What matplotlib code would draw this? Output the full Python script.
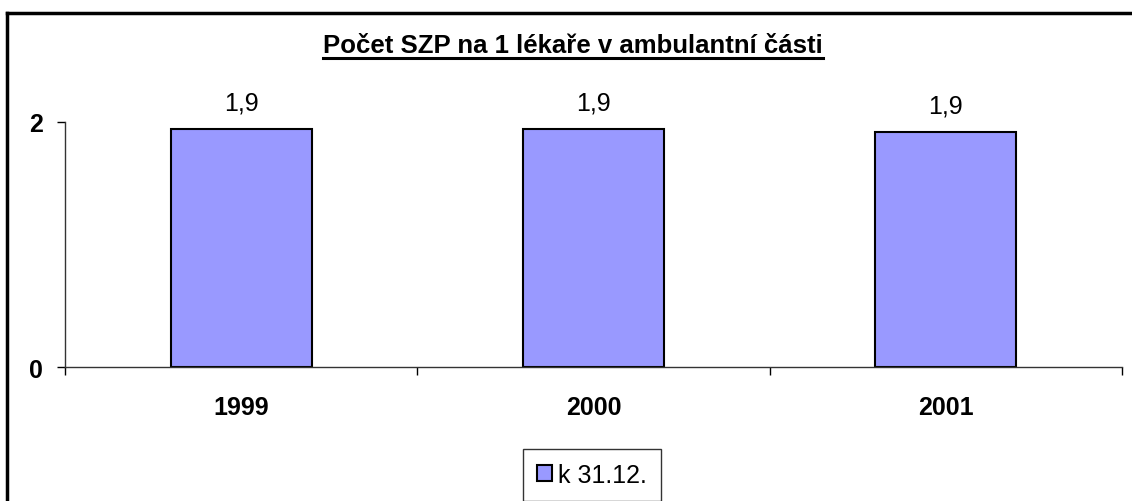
import matplotlib
matplotlib.use("Agg")
import matplotlib.pyplot as plt
from matplotlib.lines import Line2D

plt.rcParams["font.family"] = ["Liberation Sans", "DejaVu Sans"]

years = ["1999", "2000", "2001"]
values = [1.94, 1.94, 1.92]
series_name = "k 31.12."
title = "Počet SZP na 1 lékaře v ambulantní části"
y_ticks = [0, 2]

W, H = 1132, 502
FS = 18
fig = plt.figure(figsize=(W / 100, H / 100), dpi=100)

# outer chart frame: only left and top edges are inside the picture
fx, fy = 7 / W, (H - 14) / H
fig.lines.append(Line2D([fx, fx], [0, fy], transform=fig.transFigure,
                        color="black", linewidth=2.5, solid_capstyle="projecting"))
fig.lines.append(Line2D([fx, 1.01], [fy, fy], transform=fig.transFigure,
                        color="black", linewidth=2.5, solid_capstyle="projecting"))

ax = fig.add_axes([65 / W, 134 / H, 1057 / W, 245 / H])
x = list(range(len(years)))
bars = ax.bar(x, values, width=0.4, color="#9999FF", edgecolor="black",
              linewidth=1.5, label=series_name)

for xi, v in zip(x, values):
    ax.annotate(f"{v:.1f}".replace(".", ","), (xi, v), xytext=(0, 14),
                textcoords="offset points", ha="center", va="baseline",
                fontsize=FS)

ax.set_xlim(-0.5, 2.5)
ax.set_ylim(0, 2)
ax.set_yticks(y_ticks)
ax.set_yticklabels([str(t) for t in y_ticks], fontsize=FS, fontweight="bold")
ax.set_xticks(x)
ax.set_xticklabels(years, fontsize=FS, fontweight="bold")
ax.set_xticks([-0.5, 0.5, 1.5, 2.5], minor=True)
ax.tick_params(axis="x", which="major", length=0, pad=20)
ax.tick_params(axis="x", which="minor", length=6, width=1, direction="out")
ax.tick_params(axis="y", length=6, width=1, direction="out", pad=10)
for s in ["top", "right"]:
    ax.spines[s].set_visible(False)
for s in ["left", "bottom"]:
    ax.spines[s].set_linewidth(1)
    ax.spines[s].set_color("#333333")

t = fig.text(573 / W, (H - 53) / H, title, ha="center", va="baseline",
             fontsize=FS + 0.5, fontweight="bold")
fig.canvas.draw()
bb = t.get_window_extent()
uy = (H - 59) / H
fig.lines.append(Line2D([bb.x0 / W, bb.x1 / W], [uy, uy],
                        transform=fig.transFigure, color="black", linewidth=2.2))

leg = fig.legend(handles=[bars], labels=[series_name], loc="center",
                 bbox_to_anchor=(592 / W, (H - 476) / H), fontsize=FS,
                 frameon=True, fancybox=False, edgecolor="black",
                 handlelength=0.6, handleheight=0.6, handletextpad=0.25,
                 borderpad=0.55, borderaxespad=0)
leg.get_frame().set_linewidth(1)

fig.savefig("out.png", dpi=100)
